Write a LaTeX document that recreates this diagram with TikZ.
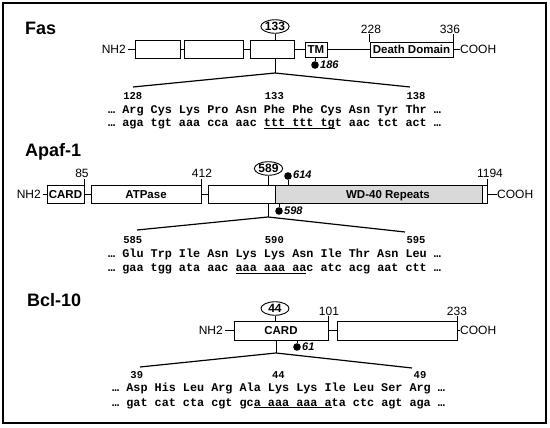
\documentclass[tikz,border=0pt]{standalone}
\usepackage{fontspec}
\setmainfont{Liberation Sans}
\newfontfamily\seqfont{Liberation Mono}
\usetikzlibrary{shapes.geometric}
\newcommand\myul[1]{\setbox0=\hbox{#1}\rlap{\rule[-2pt]{\wd0}{0.7pt}}\box0}
\begin{document}
\begin{tikzpicture}[x=1pt,y=-1pt,
  every node/.style={inner sep=0pt},
  ptitle/.style={anchor=west,font=\fontsize{18}{18}\selectfont\bfseries},
  dom/.style={draw,line width=0.9pt,text height=8.3pt,text depth=0pt,font=\fontsize{11.5}{11.5}\selectfont\bfseries},
  term/.style={font=\fontsize{12}{12}\selectfont},
  posnum/.style={font=\fontsize{12}{12}\selectfont,outer sep=1pt},
  circnum/.style={ellipse,draw,line width=0.9pt,minimum width=28pt,minimum height=13.5pt,font=\fontsize{12}{12}\selectfont\bfseries},
  lolli/.style={circle,fill,minimum size=7.6pt},
  site/.style={anchor=west,font=\fontsize{11}{11}\selectfont\bfseries\itshape},
  seqline/.style={anchor=west,font=\seqfont\fontsize{11.8}{11.8}\selectfont\bfseries,text height=8pt,text depth=2pt},
  seqnum/.style={font=\seqfont\fontsize{10.5}{10.5}\selectfont\bfseries},
  conn/.style={line width=0.9pt},
  zoomline/.style={line width=1.2pt},
]
\useasboundingbox (0,0) rectangle (550,428);
\draw[line width=1.4pt] (3,3) rectangle (546,423);

% ================= Fas =================
\node[ptitle] (tfas) at (25,28) {Fas};
\node[term,anchor=east] (fnh) at (126,49.5) {NH2};
\node[dom,minimum width=45pt,minimum height=17.5pt] (f1) at (157.5,49.5) {};
\node[dom,minimum width=59pt,minimum height=17.5pt] (f2) at (213.5,49.5) {};
\node[dom,minimum width=44pt,minimum height=17.5pt] (f3) at (272,49.5) {};
\node[dom,minimum width=22pt,minimum height=15pt] (tm) at (316,49.5) {TM};
\node[dom,minimum width=83pt,minimum height=15pt] (dd) at (411.5,49.5) {Death Domain};
\node[term,anchor=west] (fcooh) at (460,49.5) {COOH};
\draw[conn] (fnh.east) ++(1.5,0) -- (f1.west);
\draw[conn] (f1.east) -- (f2.west);
\draw[conn] (f2.east) -- (f3.west);
\draw[conn] (f3.east) -- (tm.west);
\draw[conn] (tm.east) -- (dd.west);
\draw[conn] (dd.east) -- (fcooh.west);
\node[posnum] (p228) at (371,29) {228};
\node[posnum] (p336) at (450,29) {336};
\draw[conn] (dd.north west) -- (dd.north west |- p228.south);
\draw[conn] (dd.north east) -- (dd.north east |- p336.south);
\node[circnum] (c133) at (275,26.5) {133};
\draw[conn] (c133.south) -- (c133.south |- f3.north);
\node[lolli] (d186) at (315,65) {};
\draw[conn] (d186 |- tm.south) -- (d186);
\node[site] (s186) at (320,64.5) {186};
\coordinate (fa) at (275,73);
\coordinate (fl) at (133,87);
\coordinate (fr) at (410,87);
\draw[conn] (fa |- f3.south) -- (fa);
\draw[zoomline] (fl) -- (fa) -- (fr);
\node[seqnum] (n128) at (132.8,96) {128};
\node[seqnum] (n133) at (274.4,96) {133};
\node[seqnum] (n138) at (416,96) {138};
\node[seqline] (faa) at (108,111) {… Arg Cys Lys Pro Asn Phe Phe Cys Asn Tyr Thr …};
\node[seqline] (fdna) at (108,124) {… aga tgt aaa cca aac \myul{ttt ttt tg}t aac tct act …};

% ================= Apaf-1 =================
\node[ptitle] (tapaf) at (25,152) {Apaf-1};
\node[term,anchor=east] (anh) at (41,194) {NH2};
\node[dom,minimum width=37pt,minimum height=18pt] (card) at (65.5,194) {CARD};
\node[dom,minimum width=110pt,minimum height=18pt] (atp) at (146,194) {ATPase};
\node[dom,fill=gray!30,minimum width=207pt,minimum height=18pt] (wd) at (378.5,194) {};
\node[dom,minimum width=279pt,minimum height=18pt] (big) at (347.5,194) {};
\node[dom,draw=none] (wdl) at (388,194) {WD-40 Repeats};
\node[term,anchor=west] (acooh) at (497,194) {COOH};
\draw[conn] (anh.east) ++(1.5,0) -- (card.west);
\draw[conn] (card.east) -- (atp.west);
\draw[conn] (atp.east) -- (big.west);
\draw[conn] (big.east) -- (acooh.west);
\node[posnum] (p85) at (82,173.5) {85};
\node[posnum] (p412) at (202,173.5) {412};
\node[posnum] (p1194) at (490,173.5) {1194};
\draw[conn] (card.north east) -- (card.north east |- p85.south);
\draw[conn] (atp.north east) -- (atp.north east |- p412.south);
\draw[conn] (big.north east) -- (big.north east |- p1194.south);
\node[circnum] (c589) at (268.5,168.5) {589};
\draw[conn] (c589.south) -- (c589.south |- big.north);
\node[lolli] (d614) at (288,176) {};
\draw[conn] (d614 |- big.north) -- (d614);
\node[site] (s614) at (293,175) {614};
\node[lolli] (d598) at (279,211) {};
\draw[conn] (d598 |- big.south) -- (d598);
\node[site] (s598) at (284,211) {598};
\coordinate (aa) at (268,217);
\coordinate (al) at (137,230);
\coordinate (ar) at (405,232);
\draw[conn] (aa |- big.south) -- (aa);
\draw[zoomline] (al) -- (aa) -- (ar);
\node[seqnum] (n585) at (132.8,240) {585};
\node[seqnum] (n590) at (274.4,240) {590};
\node[seqnum] (n595) at (416,240) {595};
\node[seqline] (aaa) at (108,255) {… Glu Trp Ile Asn Lys Lys Asn Ile Thr Asn Leu …};
\node[seqline] (adna) at (108,269) {… gaa tgg ata aac \myul{aaa aaa aa}c atc acg aat ctt …};

% ================= Bcl-10 =================
\node[ptitle] (tbcl) at (27,300) {Bcl-10};
\node[term,anchor=east] (bnh) at (223,330.5) {NH2};
\node[dom,minimum width=94pt,minimum height=19pt] (bcard) at (281,330.5) {CARD};
\node[dom,minimum width=120pt,minimum height=19pt] (b2) at (397,330.5) {};
\node[term,anchor=west] (bcooh) at (460,330.5) {COOH};
\draw[conn] (bnh.east) ++(1.5,0) -- (bcard.west);
\draw[conn] (bcard.east) -- (b2.west);
\draw[conn] (b2.east) -- (bcooh.west);
\node[posnum] (p101) at (329,311) {101};
\node[posnum] (p233) at (457,311) {233};
\draw[conn] (bcard.north east) -- (bcard.north east |- p101.south);
\draw[conn] (b2.north east) -- (b2.north east |- p233.south);
\node[circnum] (c44) at (275,308.5) {44};
\draw[conn] (c44.south) -- (c44.south |- bcard.north);
\node[lolli] (d61) at (297,347) {};
\draw[conn] (d61 |- bcard.south) -- (d61);
\node[site] (s61) at (302,347) {61};
\coordinate (ba) at (276,353);
\coordinate (bl) at (140,367);
\coordinate (br) at (412,368);
\draw[conn] (ba |- bcard.south) -- (ba);
\draw[zoomline] (bl) -- (ba) -- (br);
\node[seqnum] (n39) at (136.8,375.5) {39};
\node[seqnum] (n44) at (278.4,375.5) {44};
\node[seqnum] (n49) at (420,375.5) {49};
\node[seqline] (baa) at (112,388.5) {… Asp His Leu Arg Ala Lys Lys Ile Leu Ser Arg …};
\node[seqline] (bdna) at (112,403) {… gat cat cta cgt gc\myul{a aaa aaa a}ta ctc agt aga …};
\end{tikzpicture}
\end{document}
